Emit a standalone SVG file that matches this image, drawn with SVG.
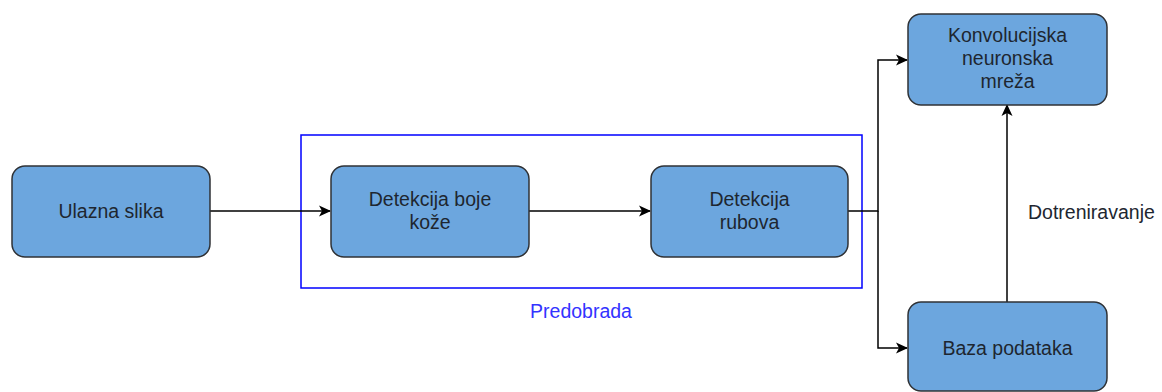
<svg xmlns="http://www.w3.org/2000/svg" width="1162" height="392" viewBox="0 0 1162 392">
<style>
.node{fill:#6ca6de;stroke:#2f3236;stroke-width:1.5}
.t{font-family:"Liberation Sans",Arial,sans-serif;font-size:19.5px;fill:#1e2630;text-anchor:middle}
.c{fill:none;stroke:#000;stroke-width:1.5}
</style>
<defs>
<marker id="ah" viewBox="0 0 12 12" refX="11" refY="6" markerWidth="12" markerHeight="12" markerUnits="userSpaceOnUse" orient="auto">
<path d="M0,0.5 L12,6 L0,11.5 L3,6 Z" fill="#000"/>
</marker>
</defs>
<rect width="1162" height="392" fill="#fff"/>
<g id="predobrada">
<rect x="301" y="135" width="561" height="153" fill="none" stroke="#0000ff" stroke-width="1.5"/>
<text x="581" y="318" class="t" style="fill:#3333ff">Predobrada</text>
</g>
<g id="connectors">
<path class="c" d="M210,211 H330" marker-end="url(#ah)"/>
<path class="c" d="M529,211 H650" marker-end="url(#ah)"/>
<path class="c" d="M848,211 H878 V60 H907" marker-end="url(#ah)"/>
<path class="c" d="M878,211 V348 H907" marker-end="url(#ah)"/>
<path class="c" d="M1007,302 V105" marker-end="url(#ah)"/>
<text x="1028" y="219" class="t" style="text-anchor:start">Dotreniravanje</text>
</g>
<g id="ulazna">
<rect class="node" x="12" y="166" width="198" height="91" rx="13"/>
<text x="111" y="218" class="t">Ulazna slika</text>
</g>
<g id="boja">
<rect class="node" x="331" y="166" width="198" height="91" rx="13"/>
<text x="430" y="206" class="t">Detekcija boje</text>
<text x="430" y="229" class="t">kože</text>
</g>
<g id="rubovi">
<rect class="node" x="651" y="166" width="197" height="91" rx="13"/>
<text x="749.5" y="206" class="t">Detekcija</text>
<text x="749.5" y="229" class="t">rubova</text>
</g>
<g id="cnn">
<rect class="node" x="908" y="14" width="199" height="91" rx="13"/>
<text x="1007.5" y="42" class="t">Konvolucijska</text>
<text x="1007.5" y="65" class="t">neuronska</text>
<text x="1007.5" y="88" class="t">mreža</text>
</g>
<g id="baza">
<rect class="node" x="908" y="302" width="199" height="89" rx="13"/>
<text x="1007.5" y="355" class="t">Baza podataka</text>
</g>
</svg>
